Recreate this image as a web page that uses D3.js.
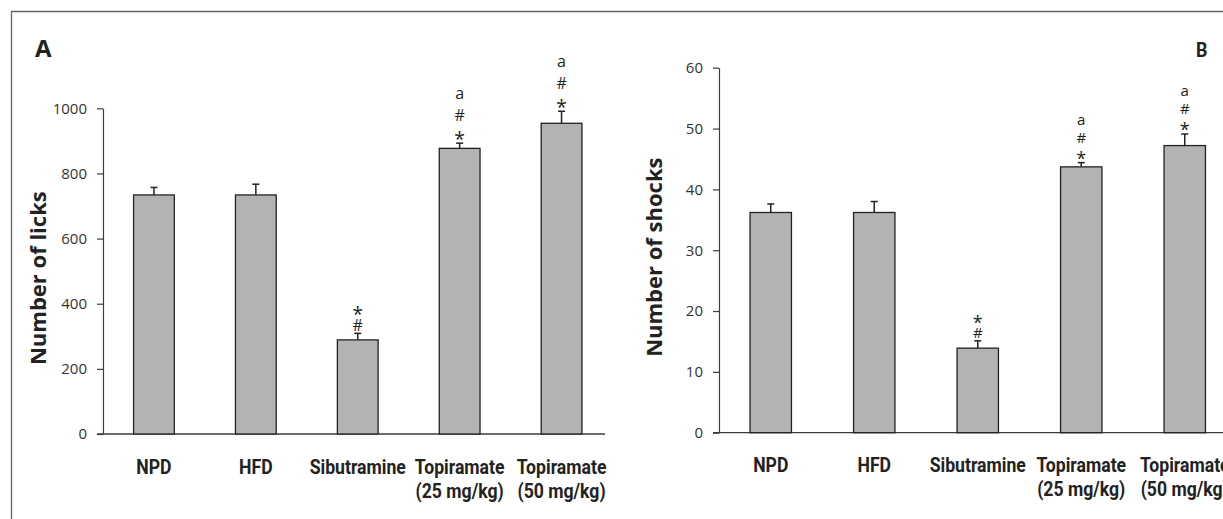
<html>
	<head>
		<meta content="text/html;charset=utf-8" http-equiv="Content-Type">
		<script src="https://d3js.org/d3.v7.min.js"></script>
		<style>
			body { margin: 0; background: #fff; }
		</style>
	</head>
	<body>
		<div id="stuff">
			<svg width="1223" height="519"></svg>
		</div>
		<script>

	// groups on the x axis (two label lines each)
	var categories = ["NPD", "HFD", "Sibutramine", "Topiramate (25 mg/kg)", "Topiramate (50 mg/kg)"];
	var categoryLines = [["NPD"], ["HFD"], ["Sibutramine"], ["Topiramate", "(25 mg/kg)"], ["Topiramate", "(50 mg/kg)"]];

	// panel A - number of licks
	var licksMean = [734, 734, 289, 877, 954];
	var licksErr = [23, 33, 20, 16, 37];
	var licksTicks = [0, 200, 400, 600, 800, 1000];

	// panel B - number of shocks
	var shocksMean = [36.2, 36.2, 13.9, 43.7, 47.2];
	var shocksErr = [1.4, 1.8, 1.2, 0.7, 1.9];
	var shocksTicks = [0, 10, 20, 30, 40, 50, 60];

	// significance marks, top to bottom
	var marks = [[], [], ["*", "#"], ["a", "#", "*"], ["a", "#", "*"]];

	var barFill = "rgb(179,179,179)";
	var dark = "rgb(34,34,34)";
	var axisColor = "rgb(60,60,60)";
	var narrow = "Roboto, 'DejaVu Sans', sans-serif";

	var svg = d3.select("#stuff").select("svg");
	svg.append("rect").attr("width", 1223).attr("height", 519).attr("fill", "#fff");

	// figure frame (only top and left are in view)
	svg.append("path")
		.attr("d", "M11.5,519 L11.5,11.5 L1223,11.5")
		.attr("fill", "none")
		.attr("stroke", "rgb(100,100,100)")
		.attr("stroke-width", 1.3);

	drawPanel({
		letter: "A", letterX: 35, letterFont: "'Open Sans', sans-serif", letterSize: 24, letterSx: 1,
		title: "Number of licks", titleX: 37,
		means: licksMean, errs: licksErr, ticks: licksTicks, max: 1000,
		y0: 434, y1: 108.3, x0: 103, x1: 612.5, lineEnd: 605,
		labelY: 474, markSize: 16, step3: 20.3, step2: 15.5
	});

	drawPanel({
		letter: "B", letterX: 1196, letterFont: narrow, letterSize: 21, letterSx: 0.85,
		title: "Number of shocks", titleX: 653,
		means: shocksMean, errs: shocksErr, ticks: shocksTicks, max: 60,
		y0: 432.7, y1: 67.7, x0: 719, x1: 1236.5, lineEnd: 1223,
		labelY: 472, markSize: 15, step3: 17, step2: 13.5
	});

	function drawPanel(p) {
		var g = svg.append("g");
		var x = d3.scaleBand()
			.domain(categories)
			.range([p.x0, p.x1])
			.paddingInner(0.6)
			.paddingOuter(0.3);
		var y = d3.scaleLinear()
			.domain([0, p.max])
			.range([p.y0, p.y1]);

		// y axis
		var yAxis = g.append("g")
			.attr("transform", "translate(" + p.x0 + ",0)")
			.call(d3.axisLeft(y).tickValues(p.ticks).tickFormat(d3.format("d"))
				.tickSize(6).tickSizeOuter(0).tickPadding(10));
		yAxis.select(".domain").attr("stroke", axisColor).attr("stroke-width", 1.2);
		yAxis.selectAll(".tick line").attr("stroke", axisColor).attr("stroke-width", 1.2);
		yAxis.selectAll(".tick text")
			.attr("fill", "rgb(51,51,51)")
			.style("font-family", "'Open Sans', sans-serif")
			.style("font-size", "15px");

		// baseline
		g.append("line")
			.attr("x1", p.x0 - 6)
			.attr("x2", p.lineEnd)
			.attr("y1", y(0))
			.attr("y2", y(0))
			.attr("stroke", axisColor)
			.attr("stroke-width", 1.3);

		var rows = categories.map(function(c, i) {
			return {cat: c, mean: p.means[i], err: p.errs[i], lines: categoryLines[i], marks: marks[i]};
		});

		// error bars
		var cap = 3.5;
		rows.forEach(function(d) {
			var cx = x(d.cat) + x.bandwidth() / 2;
			g.append("line")
				.attr("x1", cx).attr("x2", cx)
				.attr("y1", y(d.mean)).attr("y2", y(d.mean + d.err))
				.attr("stroke", dark).attr("stroke-width", 1.5);
			g.append("line")
				.attr("x1", cx - cap).attr("x2", cx + cap)
				.attr("y1", y(d.mean + d.err)).attr("y2", y(d.mean + d.err))
				.attr("stroke", dark).attr("stroke-width", 1.5);
		});

		// bars
		g.selectAll("rect.bar")
			.data(rows)
			.enter().append("rect")
			.attr("class", "bar")
			.attr("x", function(d) { return x(d.cat); })
			.attr("y", function(d) { return y(d.mean); })
			.attr("width", x.bandwidth())
			.attr("height", function(d) { return y(0) - y(d.mean); })
			.attr("fill", barFill)
			.attr("stroke", dark)
			.attr("stroke-width", 1.3);

		// significance marks
		var centerShift = {"a": 0.27, "#": 0.36, "*": 0.56};
		rows.forEach(function(d) {
			var n = d.marks.length;
			var step = n > 2 ? p.step3 : p.step2;
			var cx = x(d.cat) + x.bandwidth() / 2;
			d.marks.forEach(function(m, k) {
				var size = m === "*" ? p.markSize * 1.2 : p.markSize;
				var centre = y(d.mean + d.err) - 8 - (n - 1 - k) * step;
				g.append("text")
					.attr("x", cx)
					.attr("y", centre + centerShift[m] * size)
					.attr("text-anchor", "middle")
					.attr("fill", dark)
					.style("font-family", "'Open Sans', sans-serif")
					.style("font-size", size + "px")
					.text(m);
			});
		});

		// category labels (condensed bold)
		rows.forEach(function(d) {
			var t = g.append("text")
				.attr("transform", "translate(" + (x(d.cat) + x.bandwidth() / 2) + "," + p.labelY + ") scale(0.84,1)")
				.attr("text-anchor", "middle")
				.attr("fill", dark)
				.style("font-family", narrow)
				.style("font-weight", "bold")
				.style("font-size", "21px");
			d.lines.forEach(function(l, k) {
				t.append("tspan")
					.attr("x", 0)
					.attr("dy", k === 0 ? 0 : 24)
					.text(l);
			});
		});

		// y title
		var midY = (p.y0 + p.y1) / 2 + 7;
		g.append("text")
			.attr("transform", "translate(" + p.titleX + "," + midY + ") rotate(-90)")
			.attr("text-anchor", "middle")
			.attr("dominant-baseline", "central")
			.attr("fill", dark)
			.style("font-family", "'Open Sans', sans-serif")
			.style("font-weight", "bold")
			.style("font-size", "22px")
			.text(p.title);

		// panel letter
		g.append("text")
			.attr("transform", "translate(" + p.letterX + ",57) scale(" + p.letterSx + ",1)")
			.attr("fill", dark)
			.style("font-family", p.letterFont)
			.style("font-weight", "bold")
			.style("font-size", p.letterSize + "px")
			.text(p.letter);
	}

		</script>
	</body>
</html>
